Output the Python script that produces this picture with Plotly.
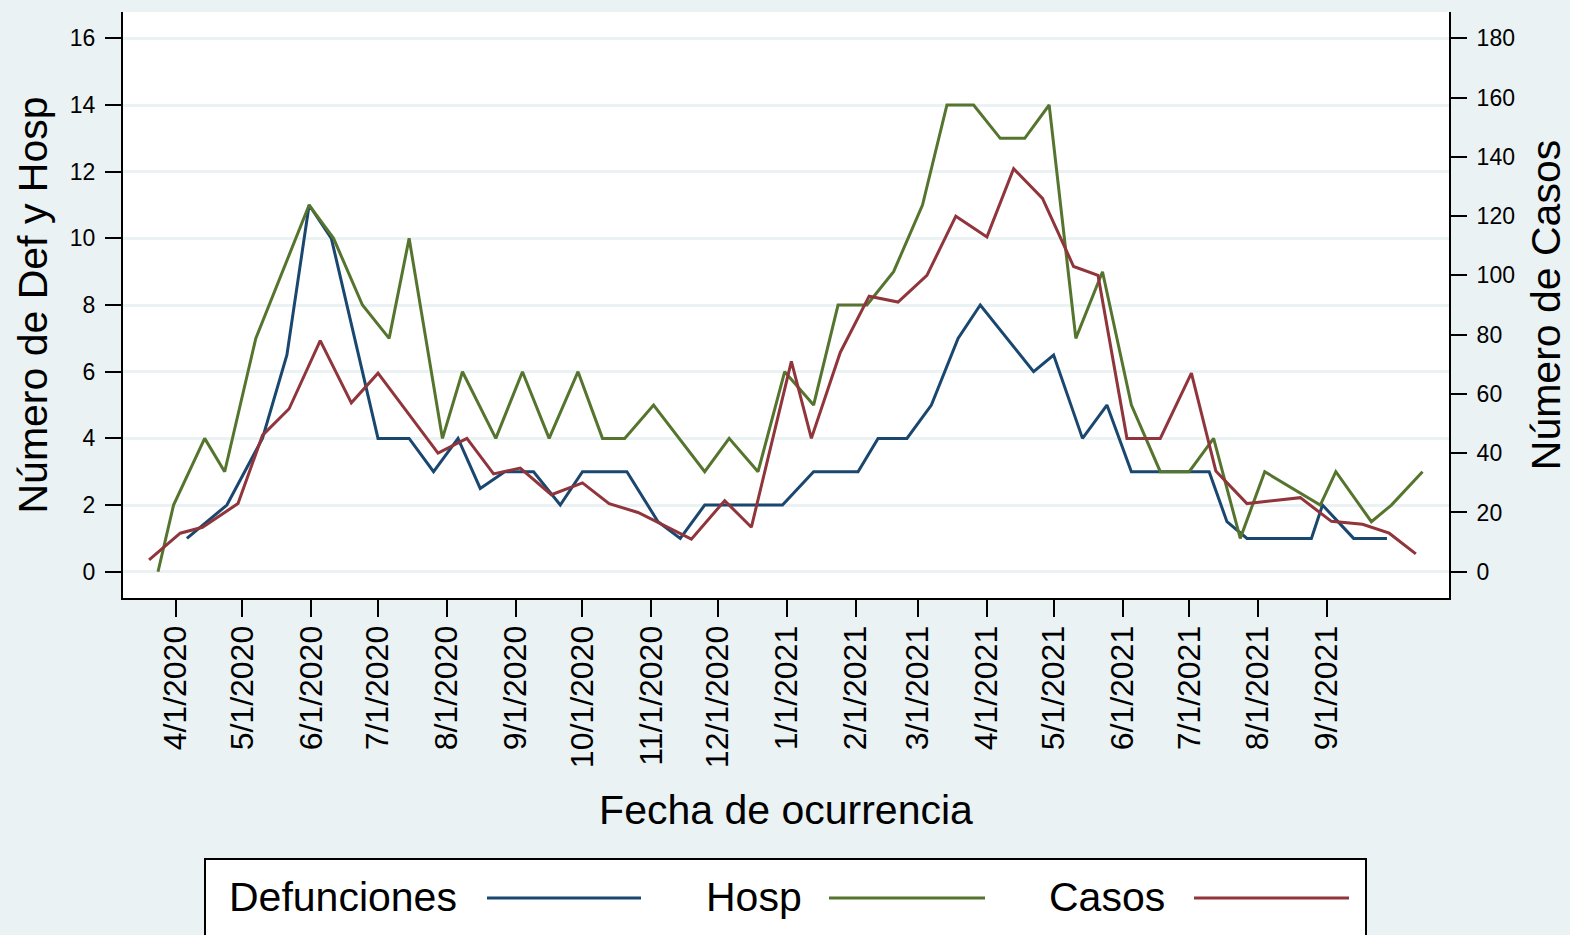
import plotly.graph_objects as go

# ---------------- data ----------------
def_dates = ["2020-04-06", "2020-04-24", "2020-05-10", "2020-05-21", "2020-05-31", "2020-06-10",
             "2020-07-01", "2020-07-15", "2020-07-26", "2020-08-06", "2020-08-16", "2020-08-27",
             "2020-09-09", "2020-09-21", "2020-10-01", "2020-10-21", "2020-11-04", "2020-11-14",
             "2020-11-25", "2020-12-30", "2021-01-13", "2021-02-02", "2021-02-11", "2021-02-24",
             "2021-03-07", "2021-03-19", "2021-03-29", "2021-04-22", "2021-05-01", "2021-05-14",
             "2021-05-25", "2021-06-05", "2021-07-10", "2021-07-18", "2021-07-27", "2021-08-25",
             "2021-08-30", "2021-09-13", "2021-09-28"]
def_vals = [1, 2, 4, 6.5, 11, 10,
            4, 4, 3, 4, 2.5, 3,
            3, 2, 3, 3, 1.5, 1,
            2, 2, 3, 3, 4, 4,
            5, 7, 8, 6, 6.5, 4,
            5, 3, 3, 1.5, 1, 1,
            2, 1, 1]

hosp_dates = ["2020-03-24", "2020-03-31", "2020-04-14", "2020-04-23", "2020-05-07", "2020-05-31",
              "2020-06-11", "2020-06-24", "2020-07-06", "2020-07-15", "2020-07-30", "2020-08-08",
              "2020-08-23", "2020-09-04", "2020-09-16", "2020-09-29", "2020-10-10", "2020-10-20",
              "2020-11-02", "2020-11-25", "2020-12-06", "2020-12-19", "2020-12-31", "2021-01-13",
              "2021-01-24", "2021-02-06", "2021-02-18", "2021-03-03", "2021-03-14", "2021-03-26",
              "2021-04-07", "2021-04-18", "2021-04-29", "2021-05-11", "2021-05-23", "2021-06-05",
              "2021-06-18", "2021-07-01", "2021-07-12", "2021-07-24", "2021-08-04", "2021-08-29",
              "2021-09-05", "2021-09-21", "2021-09-30", "2021-10-14"]
hosp_vals = [0, 2, 4, 3, 7, 11,
             10, 8, 7, 10, 4, 6,
             4, 6, 4, 6, 4, 4,
             5, 3, 4, 3, 6, 5,
             8, 8, 9, 11, 14, 14,
             13, 13, 14, 7, 9, 5,
             3, 3, 4, 1, 3, 2,
             3, 1.5, 2, 3]

casos_dates = ["2020-03-20", "2020-04-03", "2020-04-13", "2020-04-29", "2020-05-10", "2020-05-22",
               "2020-06-05", "2020-06-19", "2020-07-01", "2020-07-28", "2020-08-10", "2020-08-22",
               "2020-09-03", "2020-09-17", "2020-10-01", "2020-10-13", "2020-10-26", "2020-11-19",
               "2020-12-04", "2020-12-16", "2021-01-03", "2021-01-12", "2021-01-25", "2021-02-07",
               "2021-02-20", "2021-03-05", "2021-03-18", "2021-04-01", "2021-04-13", "2021-04-26",
               "2021-05-10", "2021-05-21", "2021-06-03", "2021-06-18", "2021-07-02", "2021-07-13",
               "2021-07-27", "2021-08-20", "2021-09-03", "2021-09-17", "2021-09-29", "2021-10-11"]
casos_vals = [4, 13, 15, 23, 46, 55,
              78, 57, 67, 40, 45, 33,
              35, 26, 30, 23, 20, 11,
              24, 15, 71, 45, 74, 93,
              91, 100, 120, 113, 136, 126,
              103, 100, 45, 45, 67, 34,
              23, 25, 17, 16, 13, 6]

month_ticks = ["2020-04-01", "2020-05-01", "2020-06-01", "2020-07-01", "2020-08-01", "2020-09-01",
               "2020-10-01", "2020-11-01", "2020-12-01", "2021-01-01", "2021-02-01", "2021-03-01",
               "2021-04-01", "2021-05-01", "2021-06-01", "2021-07-01", "2021-08-01", "2021-09-01"]
left_ticks = [0, 2, 4, 6, 8, 10, 12, 14, 16]
right_ticks = [0, 20, 40, 60, 80, 100, 120, 140, 160, 180]

series_names = ["Defunciones", "Hosp", "Casos"]

# ---------------- style ----------------
NAVY = "#1A476F"
GREEN = "#55752F"
MAROON = "#90353B"
BG = "#EAF2F3"
FONT = "Liberation Sans, Arial, Helvetica, sans-serif"
colors = [NAVY, GREEN, MAROON]

W, H = 1570, 935
PL, PR, PT, PB = 123, 1449, 12, 598  # plot area in pixels


def px(xp):
    return (xp - PL) / (PR - PL)


def py(yp):
    return (PB - yp) / (PB - PT)


fig = go.Figure()
fig.add_trace(go.Scatter(x=def_dates, y=def_vals, mode="lines", name=series_names[0],
                         line=dict(color=NAVY, width=3)))
fig.add_trace(go.Scatter(x=hosp_dates, y=hosp_vals, mode="lines", name=series_names[1],
                         line=dict(color=GREEN, width=3)))
fig.add_trace(go.Scatter(x=casos_dates, y=casos_vals, mode="lines", name=series_names[2],
                         line=dict(color=MAROON, width=3), yaxis="y2"))

axis_common = dict(ticks="outside", tickwidth=2, tickcolor="black", showline=True,
                   linecolor="black", linewidth=2, zeroline=False, automargin=False)

fig.update_layout(
    width=W, height=H,
    paper_bgcolor=BG, plot_bgcolor="white",
    margin=dict(l=PL, r=W - PR, t=PT, b=H - PB, autoexpand=False),
    showlegend=False,
    font=dict(family=FONT, color="black"),
    xaxis=dict(type="date", range=["2020-03-08 06:00", "2021-10-25 22:00"],
               tickvals=month_ticks, tickformat="%-m/%-d/%Y", tickangle=-90,
               ticklen=17, tickfont=dict(size=32), showgrid=False,
               ticklabelstandoff=-4,
               title=dict(text="Fecha de ocurrencia", font=dict(size=41), standoff=28),
               **axis_common),
    yaxis=dict(range=[-0.788, 16.79], tickvals=left_ticks, ticklen=16,
               tickfont=dict(size=23), showgrid=True, gridcolor=BG, gridwidth=2.5,
               ticklabelstandoff=5,
               title=dict(text="Número de Def y Hosp", font=dict(size=41), standoff=9),
               **axis_common),
    yaxis2=dict(overlaying="y", side="right", range=[-8.87, 188.9], tickvals=right_ticks,
                ticklen=16, tickfont=dict(size=23), showgrid=False,
                ticklabelstandoff=5,
                title=dict(text="Número de Casos", font=dict(size=41), standoff=17),
                **axis_common),
)

# ---------------- legend box (Stata style: label then key) ----------------
shapes = [dict(type="rect", xref="paper", yref="paper",
               x0=px(205), x1=px(1366), y0=py(938), y1=py(859),
               line=dict(color="black", width=2), fillcolor="white", layer="above")]
annotations = []
label_x = [227, 704, 1047]
key_x = [(487, 641), (829, 985), (1194, 1349)]
for name, col, lx, (k0, k1) in zip(series_names, colors, label_x, key_x):
    annotations.append(dict(text=name, xref="paper", yref="paper", x=px(lx), y=py(897),
                            xanchor="left", yanchor="middle", showarrow=False,
                            font=dict(size=41, color="black", family=FONT)))
    shapes.append(dict(type="line", xref="paper", yref="paper", x0=px(k0), x1=px(k1),
                       y0=py(898), y1=py(898), line=dict(color=col, width=3), layer="above"))

fig.update_layout(shapes=shapes, annotations=annotations)

fig.write_html(
    "out.html",
    config={"displayModeBar": False},
    post_script="document.body.style.margin='0';document.body.style.overflow='hidden';"
                "document.body.style.background='" + BG + "';",
)
